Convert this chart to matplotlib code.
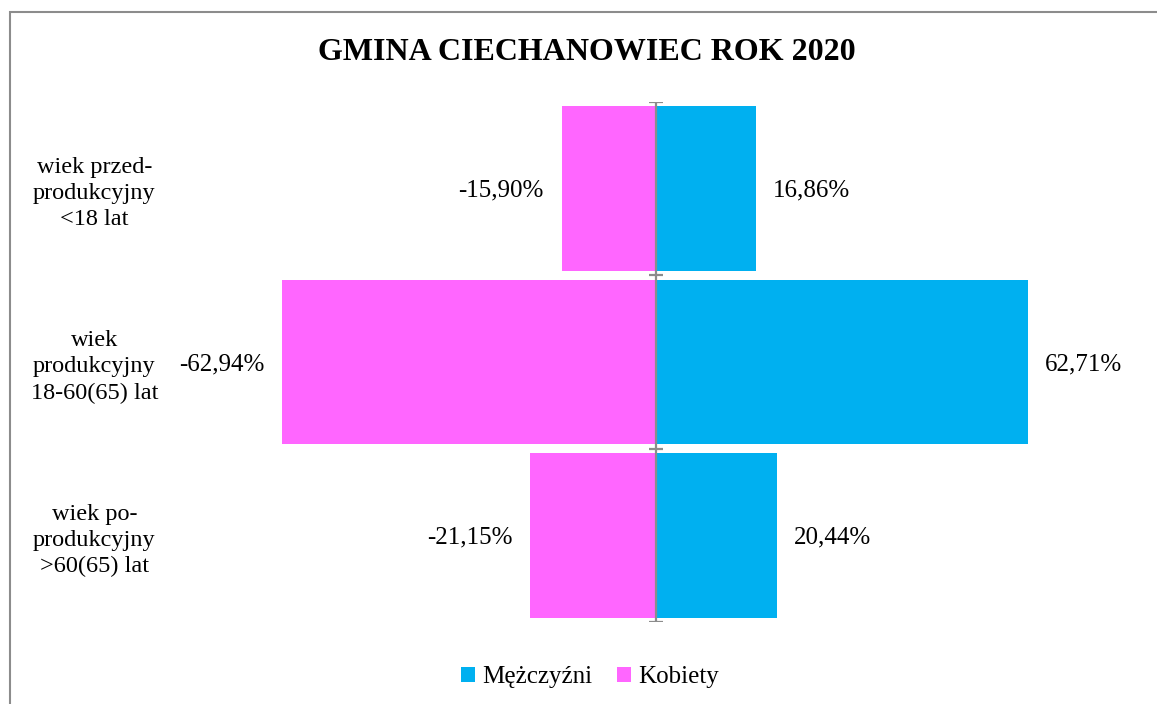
import matplotlib.pyplot as plt
from matplotlib.patches import Rectangle

plt.rcParams['font.family'] = ['Liberation Serif', 'DejaVu Serif']

# data (percent)
groups = ["wiek przed-\nprodukcyjny\n<18 lat",
          "wiek\nprodukcyjny\n18-60(65) lat",
          "wiek po-\nprodukcyjny\n>60(65) lat"]
men = [16.86, 62.71, 20.44]
women = [-15.90, -62.94, -21.15]
series_names = ["Mężczyźni", "Kobiety"]
blue = "#00B0F0"; pink = "#FF66FF"; grey = "#8C8C8C"

fig = plt.figure(figsize=(11.57, 7.04), dpi=100)
ax = fig.add_axes([175/1157, 1-622/704, 962/1157, 520/704])

ypos = list(range(len(groups)))
b1 = ax.barh(ypos, men, height=0.95, color=blue, edgecolor='none', label=series_names[0])
b2 = ax.barh(ypos, women, height=0.95, color=pink, edgecolor='none', label=series_names[1])

def fmt(v): return f"{v:.2f}".replace('.', ',') + '%'
for y, v in zip(ypos, men):
    ax.annotate(fmt(v), (v, y), xytext=(12, -1.5), textcoords='offset points',
                ha='left', va='center', fontsize=18)
for y, v in zip(ypos, women):
    ax.annotate(fmt(v), (v, y), xytext=(-13, -1.5), textcoords='offset points',
                ha='right', va='center', fontsize=18)

# category axis at x = 0 with tick marks between groups
ax.axvline(0, color=grey, lw=1.6, zorder=3)
edges = [i - 0.5 for i in range(len(groups) + 1)]
ax.hlines(edges, -1.2, 1.2, color=grey, lw=1.6, zorder=3)

ax.set_xlim(-81, 81)
ax.set_ylim(len(groups) - 0.5, -0.5)
ax.set_yticks(ypos)
ax.set_yticklabels(groups, fontsize=17.5, ha='center', linespacing=1.32)
ax.tick_params(axis='y', length=0, pad=58)
ax.set_xticks([])
for s in ax.spines.values():
    s.set_visible(False)

fig.text(587/1157, 1-53/704, "GMINA CIECHANOWIEC ROK 2020", ha='center', va='center',
         fontsize=23, fontweight='bold')

fig.legend(handles=[b1, b2], loc='center', bbox_to_anchor=(590/1157, 1-677/704), ncol=2,
           frameon=False, fontsize=18, handlelength=0.55, handleheight=0.55,
           handletextpad=0.3, columnspacing=1.0)

# chart frame (right and bottom edges fall outside the picture)
fig.add_artist(Rectangle((10/1157, -0.05), 1.1, 1-12/704+0.05, transform=fig.transFigure,
                         fill=False, edgecolor=grey, lw=1.5))

fig.savefig("out.png", dpi=100)
